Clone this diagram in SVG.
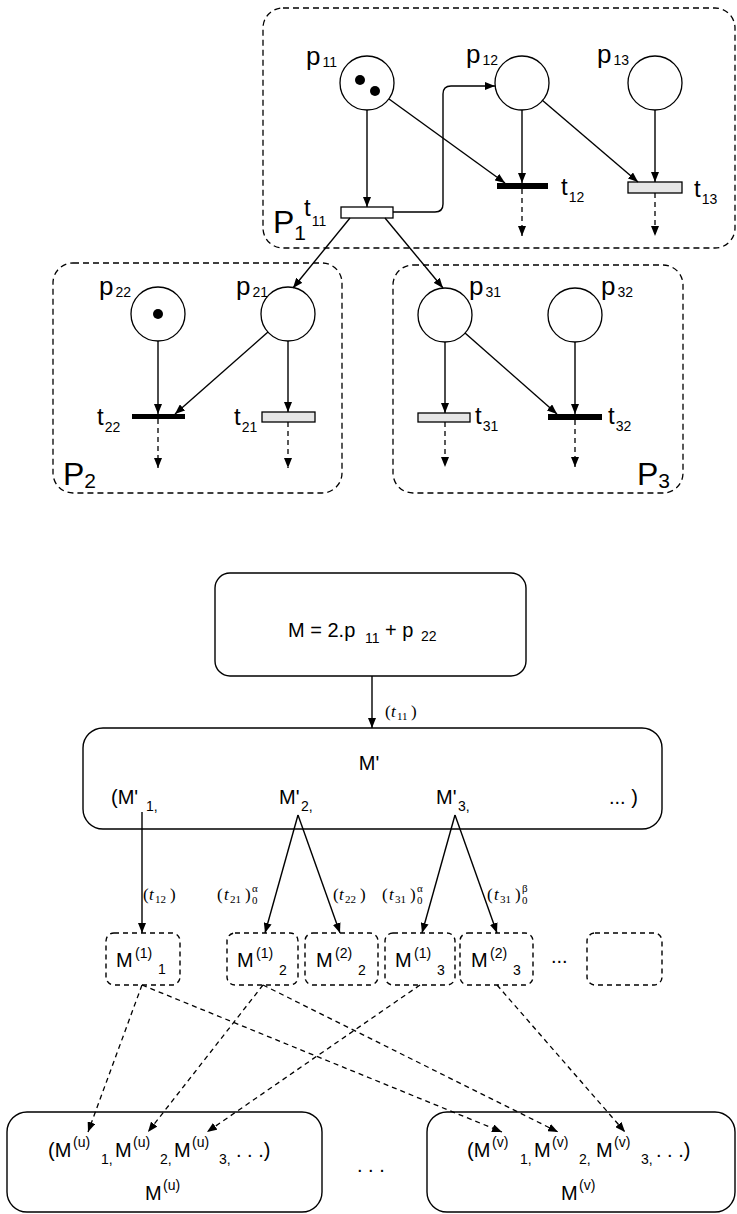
<svg xmlns="http://www.w3.org/2000/svg" width="737" height="1214" viewBox="0 0 737 1214">
<defs>
<style>
.bg{fill:#fff}
.cont{fill:none;stroke:#000;stroke-width:1.3;stroke-dasharray:6 4}
.place{fill:#fff;stroke:#000;stroke-width:1.3}
.tok{fill:#000}
.tw{fill:#fff;stroke:#000;stroke-width:1.3}
.tg{fill:#e6e6e6;stroke:#000;stroke-width:1.3}
.tb{fill:#000}
.arc{fill:none;stroke:#000;stroke-width:1.4}
.darc{fill:none;stroke:#000;stroke-width:1.3;stroke-dasharray:5 4}
.box{fill:#fff;stroke:#000;stroke-width:1.4}
.sbox{fill:#fff;stroke:#000;stroke-width:1.4;stroke-dasharray:5 4}
.lp{font-family:"Liberation Sans",Arial,sans-serif;font-size:26px;fill:#000}
.lt{font-family:"Liberation Sans",Arial,sans-serif;font-size:24px;fill:#000}
.lP{font-family:"Liberation Sans",Arial,sans-serif;font-size:32px;fill:#000}
.sub{font-size:14px}
.subP{font-size:21px}
.m{font-family:"Liberation Sans",Arial,sans-serif;font-size:20px;fill:#000}
.ms{font-family:"Liberation Sans",Arial,sans-serif;font-size:14px;fill:#000}
.el{font-family:"Liberation Serif","Times New Roman",serif;font-size:17px;fill:#000}
.es{font-size:11px}
.it{font-style:italic}
</style>
<marker id="ah" viewBox="0 0 10 8" refX="10" refY="4" markerWidth="10" markerHeight="8" markerUnits="userSpaceOnUse" orient="auto"><path d="M0,0 L10,4 L0,8 z" fill="#000"/></marker>
</defs>
<rect class="bg" x="0" y="0" width="737" height="1214"/>

<!-- containers -->
<g id="P1"><rect class="cont" x="263" y="8" width="472" height="240" rx="20"/>
<text class="lP" x="273" y="233">P<tspan class="subP" dy="7">1</tspan></text></g>
<g id="P2"><rect class="cont" x="53" y="263" width="289" height="230" rx="20"/>
<text class="lP" x="63" y="485">P<tspan class="subP" dy="3">2</tspan></text></g>
<g id="P3"><rect class="cont" x="393" y="265" width="290" height="228" rx="20"/>
<text class="lP" x="637" y="485">P<tspan class="subP" dy="3">3</tspan></text></g>

<!-- places -->
<g id="p11"><circle class="place" cx="367" cy="83" r="27"/><circle class="tok" cx="360" cy="80" r="5"/><circle class="tok" cx="375" cy="91" r="5"/>
<text class="lp" x="306" y="65">p<tspan class="sub" dx="2" dy="2">11</tspan></text></g>
<g id="p12"><circle class="place" cx="522" cy="83" r="27"/>
<text class="lp" x="466" y="63">p<tspan class="sub" dx="2" dy="2">12</tspan></text></g>
<g id="p13"><circle class="place" cx="655" cy="83" r="27"/>
<text class="lp" x="597" y="63">p<tspan class="sub" dx="2" dy="2">13</tspan></text></g>
<g id="p22"><circle class="place" cx="158" cy="314" r="27"/><circle class="tok" cx="158" cy="314" r="5"/>
<text class="lp" x="99" y="295">p<tspan class="sub" dx="2" dy="2">22</tspan></text></g>
<g id="p21"><circle class="place" cx="288" cy="314" r="27"/>
<text class="lp" x="236" y="295">p<tspan class="sub" dx="2" dy="2">21</tspan></text></g>
<g id="p31"><circle class="place" cx="445" cy="315" r="27"/>
<text class="lp" x="469" y="295">p<tspan class="sub" dx="2" dy="2">31</tspan></text></g>
<g id="p32"><circle class="place" cx="575" cy="315" r="27"/>
<text class="lp" x="601" y="295">p<tspan class="sub" dx="2" dy="2">32</tspan></text></g>

<!-- transitions -->
<g id="t11"><rect class="tw" x="341" y="207" width="52" height="11"/>
<text class="lt" x="304" y="216">t<tspan class="sub" dx="1" dy="10">11</tspan></text></g>
<g id="t12"><rect class="tb" x="497" y="183" width="51" height="6"/>
<text class="lt" x="561" y="195">t<tspan class="sub" dx="1" dy="7">12</tspan></text></g>
<g id="t13"><rect class="tg" x="628" y="182" width="54" height="11"/>
<text class="lt" x="694" y="197">t<tspan class="sub" dx="1" dy="7">13</tspan></text></g>
<g id="t22"><rect class="tb" x="132" y="414" width="53" height="5"/>
<text class="lt" x="97" y="425">t<tspan class="sub" dx="1" dy="7">22</tspan></text></g>
<g id="t21"><rect class="tg" x="262" y="412" width="53" height="10"/>
<text class="lt" x="234" y="425">t<tspan class="sub" dx="1" dy="7">21</tspan></text></g>
<g id="t31"><rect class="tg" x="418" y="413" width="52" height="9"/>
<text class="lt" x="475" y="424">t<tspan class="sub" dx="1" dy="7">31</tspan></text></g>
<g id="t32"><rect class="tb" x="548" y="414" width="54" height="6"/>
<text class="lt" x="608" y="424">t<tspan class="sub" dx="1" dy="7">32</tspan></text></g>

<!-- marking boxes -->
<g id="M"><rect class="box" x="215" y="573" width="311" height="103" rx="15"/>
<text class="m" x="288" y="637">M = 2.p</text><text class="ms" x="365" y="643">11</text>
<text class="m" x="385" y="637">+ p</text><text class="ms" x="421" y="641">22</text></g>
<g id="Mprime"><rect class="box" x="83" y="728" width="579" height="101" rx="20"/>
<text class="m" x="369" y="770" text-anchor="middle">M'</text>
<text class="m" x="111" y="804">(M'</text><text class="ms" x="146" y="811">1,</text>
<text class="m" x="279" y="804">M'</text><text class="ms" x="301" y="811">2,</text>
<text class="m" x="436" y="804">M'</text><text class="ms" x="458" y="811">3,</text>
<text class="m" x="609" y="804">... )</text></g>

<g id="M11"><rect class="sbox" x="106" y="933" width="74" height="52" rx="8"/>
<text class="m" x="116" y="967">M</text><text class="ms" x="135" y="958">(1)</text><text class="ms" x="158" y="974">1</text></g>
<g id="M12"><rect class="sbox" x="227" y="933" width="71" height="52" rx="8"/>
<text class="m" x="237" y="967">M</text><text class="ms" x="256" y="958">(1)</text><text class="ms" x="279" y="975">2</text></g>
<g id="M22"><rect class="sbox" x="305" y="933" width="73" height="52" rx="8"/>
<text class="m" x="316" y="967">M</text><text class="ms" x="335" y="958">(2)</text><text class="ms" x="358" y="975">2</text></g>
<g id="M13"><rect class="sbox" x="385" y="933" width="70" height="52" rx="8"/>
<text class="m" x="395" y="967">M</text><text class="ms" x="414" y="958">(1)</text><text class="ms" x="437" y="975">3</text></g>
<g id="M23"><rect class="sbox" x="460" y="933" width="73" height="52" rx="8"/>
<text class="m" x="471" y="967">M</text><text class="ms" x="490" y="958">(2)</text><text class="ms" x="513" y="975">3</text></g>
<g id="Mdots"><text class="m" x="551" y="963">...</text></g>
<g id="Mempty"><rect class="sbox" x="587" y="933" width="75" height="52" rx="8"/></g>

<g id="Mu"><rect class="box" x="7" y="1112" width="315" height="100" rx="20"/>
<text class="m" x="48" y="1157">(M</text><text class="ms" x="73" y="1147">(u)</text><text class="ms" x="101" y="1164">1,</text>
<text class="m" x="115" y="1157">M</text><text class="ms" x="133" y="1147">(u)</text><text class="ms" x="160" y="1164">2,</text>
<text class="m" x="174" y="1157">M</text><text class="ms" x="192" y="1147">(u)</text><text class="ms" x="219" y="1164">3,</text>
<text class="m" x="236" y="1157">. . .)</text>
<text class="m" x="145" y="1200">M</text><text class="ms" x="163" y="1190">(u)</text></g>
<g id="dots"><text class="m" x="357" y="1172">. . .</text></g>
<g id="Mv"><rect class="box" x="427" y="1112" width="308" height="100" rx="20"/>
<text class="m" x="467" y="1157">(M</text><text class="ms" x="492" y="1147">(v)</text><text class="ms" x="520" y="1164">1,</text>
<text class="m" x="534" y="1157">M</text><text class="ms" x="552" y="1147">(v)</text><text class="ms" x="579" y="1164">2,</text>
<text class="m" x="596" y="1157">M</text><text class="ms" x="614" y="1147">(v)</text><text class="ms" x="641" y="1164">3,</text>
<text class="m" x="656" y="1157">. . .)</text>
<text class="m" x="561" y="1200">M</text><text class="ms" x="579" y="1190">(v)</text></g>

<!-- connectors -->
<g id="connectors">
<path class="arc" marker-end="url(#ah)" d="M367,110 V207"/>
<path class="arc" marker-end="url(#ah)" d="M389,99 L505,183"/>
<path class="arc" marker-end="url(#ah)" d="M393,212 H435 Q443,212 443,204 V94 Q443,86 451,86 H495"/>
<path class="arc" marker-end="url(#ah)" d="M522,110 V183"/>
<path class="arc" marker-end="url(#ah)" d="M542,100 L638,182"/>
<path class="arc" marker-end="url(#ah)" d="M655,110 V182"/>
<path class="darc" marker-end="url(#ah)" d="M522,189 V236"/>
<path class="darc" marker-end="url(#ah)" d="M655,193 V236"/>
<path class="arc" marker-end="url(#ah)" d="M350,218 L293,288"/>
<path class="arc" marker-end="url(#ah)" d="M385,218 L443,288"/>
<path class="arc" marker-end="url(#ah)" d="M158,341 V414"/>
<path class="arc" marker-end="url(#ah)" d="M268,332 L175,414"/>
<path class="arc" marker-end="url(#ah)" d="M288,341 V412"/>
<path class="darc" marker-end="url(#ah)" d="M158,419 V468"/>
<path class="darc" marker-end="url(#ah)" d="M288,422 V468"/>
<path class="arc" marker-end="url(#ah)" d="M445,342 V413"/>
<path class="arc" marker-end="url(#ah)" d="M465,333 L557,414"/>
<path class="arc" marker-end="url(#ah)" d="M575,342 V414"/>
<path class="darc" marker-end="url(#ah)" d="M445,422 V467"/>
<path class="darc" marker-end="url(#ah)" d="M575,420 V467"/>

<path class="arc" marker-end="url(#ah)" d="M372,676 V728"/>
<path class="arc" marker-end="url(#ah)" d="M142,812 V933"/>
<path class="arc" marker-end="url(#ah)" d="M298,815 L265,933"/>
<path class="arc" marker-end="url(#ah)" d="M298,815 L340,933"/>
<path class="arc" marker-end="url(#ah)" d="M455,815 L422,933"/>
<path class="arc" marker-end="url(#ah)" d="M455,815 L497,933"/>

<path class="darc" marker-end="url(#ah)" d="M142,985 L88,1132"/>
<path class="darc" marker-end="url(#ah)" d="M142,985 L502,1132"/>
<path class="darc" marker-end="url(#ah)" d="M263,985 L148,1132"/>
<path class="darc" marker-end="url(#ah)" d="M263,985 L558,1132"/>
<path class="darc" marker-end="url(#ah)" d="M420,985 L207,1132"/>
<path class="darc" marker-end="url(#ah)" d="M497,985 L625,1132"/>

<text class="el" y="717"><tspan x="385">(</tspan><tspan x="391" class="it">t</tspan><tspan x="397" dy="3" class="es">11</tspan><tspan x="411" dy="-3">)</tspan></text>
<text class="el" y="900"><tspan x="143">(</tspan><tspan x="149" class="it">t</tspan><tspan x="155" dy="3" class="es">12</tspan><tspan x="170" dy="-3">)</tspan></text>
<text class="el" y="900"><tspan x="217">(</tspan><tspan x="224" class="it">t</tspan><tspan x="230" dy="3" class="es">21</tspan><tspan x="245" dy="-3">)</tspan><tspan x="252" dy="4" class="es">0</tspan><tspan x="252" dy="-12" class="es">α</tspan></text>
<text class="el" y="900"><tspan x="333">(</tspan><tspan x="339" class="it">t</tspan><tspan x="345" dy="3" class="es">22</tspan><tspan x="360" dy="-3">)</tspan></text>
<text class="el" y="900"><tspan x="382">(</tspan><tspan x="389" class="it">t</tspan><tspan x="395" dy="3" class="es">31</tspan><tspan x="410" dy="-3">)</tspan><tspan x="417" dy="4" class="es">0</tspan><tspan x="417" dy="-12" class="es">α</tspan></text>
<text class="el" y="900"><tspan x="487">(</tspan><tspan x="494" class="it">t</tspan><tspan x="500" dy="3" class="es">31</tspan><tspan x="515" dy="-3">)</tspan><tspan x="522" dy="4" class="es">0</tspan><tspan x="522" dy="-12" class="es">β</tspan></text>
</g>
</svg>
